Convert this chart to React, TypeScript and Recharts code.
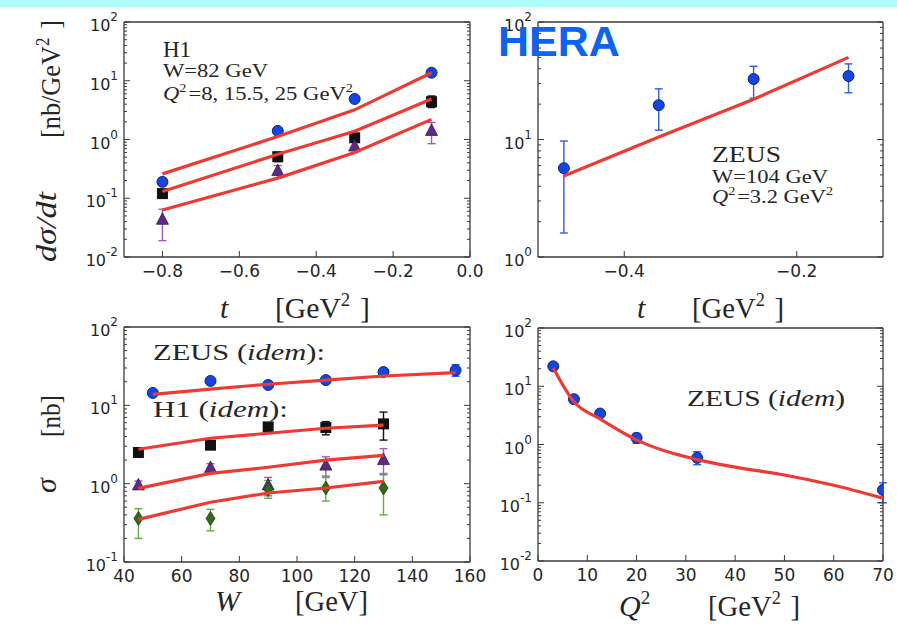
import React from "react";
import { ComposedChart, XAxis, YAxis, Scatter, Line, ErrorBar } from "recharts";

const INK = "#262626";
const FRAME = "#3a3a3a";
const RED = "#ee3a32";
const SERIF = '"Liberation Serif", "Times New Roman", serif';
const SANS = '"DejaVu Sans", sans-serif';

// dσ/dt vs t, H1 at W = 82 GeV (Q² = 8, 15.5, 25 GeV²)
const tH1 = [-0.8, -0.5, -0.3, -0.1];
const h1Circ = [0.19, 1.4, 4.9, 13.7];
const h1CircErr = [[0.17, 0.22], [1.25, 1.55], [4.4, 5.4], [12.3, 15.2]];
const h1Sq = [0.12, 0.51, 1.07, 4.4];
const h1SqErr = [[0.1, 0.14], [0.42, 0.6], [0.9, 1.25], [3.5, 5.5]];
const h1Tri = [0.043, 0.29, 0.76, 1.4];
const h1TriErr = [[0.019, 0.065], [0.22, 0.36], [0.6, 0.95], [0.85, 1.95]];
const h1Fit8 = [0.26, 1.12, 3.2, 13.7];
const h1Fit15 = [0.13, 0.56, 1.38, 4.9];
const h1Fit25 = [0.063, 0.22, 0.6, 2.2];

// dσ/dt vs t, ZEUS at W = 104 GeV, Q² = 3.2 GeV²
const tZeus = [-0.47, -0.36, -0.25, -0.14];
const zeusT = [5.7, 19.6, 32.7, 34.7];
const zeusTErr = [[1.6, 9.7], [12, 27], [22.5, 42], [25, 44]];
const zeusTFit = [4.9, 10.5, 22, 50];

// σ vs W
const wZeus = [50, 70, 90, 110, 130, 155];
const zeusW = [14.4, 20.5, 18.2, 21, 26.6, 28];
const zeusWErr = [[13.2, 15.6], [19, 22], [16.8, 19.6], [19.5, 22.5], [25, 28.2], [23.5, 33]];
const zeusWFit = [13.8, 16.1, 18.6, 21, 23.7, 26.1];
const wH1 = [45, 70, 90, 110, 130];
const h1WSq = [2.5, 3.1, 5.3, 5.2, 5.8];
const h1WSqErr = [[2.3, 2.7], [2.8, 3.4], [4.9, 5.7], [4.2, 6.2], [3.6, 8.2]];
const h1WSqFit = [2.75, 3.8, 4.4, 5.1, 5.6];
const h1WTri = [0.95, 1.58, 0.95, 1.7, 2.0];
const h1WTriErr = [[0.85, 1.08], [1.35, 1.8], [0.7, 1.2], [1.25, 2.2], [1.3, 2.8]];
const h1WTriFit = [0.87, 1.35, 1.62, 2.0, 2.3];
const h1WDia = [0.36, 0.36, 0.85, 0.88, 0.88];
const h1WDiaErr = [[0.2, 0.48], [0.25, 0.47], [0.65, 1.1], [0.6, 1.2], [0.4, 1.35]];
const h1WDiaFit = [0.35, 0.58, 0.76, 0.88, 1.07];

// σ vs Q², ZEUS
const q2Zeus = [3.1, 7.3, 12.6, 20, 32.3, 70];
const zeusQ = [22, 6.0, 3.4, 1.3, 0.59, 0.166];
const zeusQErr = [[20, 24], [5.4, 6.6], [3.0, 3.8], [1.05, 1.55], [0.45, 0.75], [0.1, 0.22]];
const q2Fit = [3.1, 7.3, 12.6, 20, 32.3, 40, 50, 60, 70];
const zeusQFit = [20.5, 5.4, 2.75, 1.2, 0.55, 0.41, 0.3, 0.2, 0.12];

// axis ticks
const tH1Ticks = [-0.8, -0.6, -0.4, -0.2, 0];
const tZeusTicks = [-0.4, -0.2];
const wTicks = [40, 60, 80, 100, 120, 140, 160];
const q2Ticks = [0, 10, 20, 30, 40, 50, 60, 70];
const decadesA = [0.01, 0.1, 1, 10, 100];
const decadesB = [1, 10, 100];
const decadesC = [0.1, 1, 10, 100];

const withMinor = (decades: number[]) => {
  const out: number[] = [];
  decades.forEach((d, i) => {
    if (i === decades.length - 1) out.push(d);
    else for (let m = 1; m <= 9; m++) out.push(+(m * d).toPrecision(3));
  });
  return out;
};

type Mark = "circle" | "square" | "triangle" | "diamond";
type Pt = { x: number; y: number; err?: number[] };

const MARKS: Record<Mark, { fill: string; edge: string; bar: string }> = {
  circle: { fill: "#1244e6", edge: "#0b2680", bar: "#2f5cf0" },
  square: { fill: "#111111", edge: "#000000", bar: "#111111" },
  triangle: { fill: "#5d2a86", edge: "#3a1756", bar: "#9a5cbf" },
  diamond: { fill: "#2f6a14", edge: "#1c430a", bar: "#5fae3e" },
};

const points = (xs: number[], ys: number[], errs: number[][]): Pt[] =>
  xs.map((x, i) => ({ x, y: ys[i], err: [ys[i] - errs[i][0], errs[i][1] - ys[i]] }));
const curve = (xs: number[], ys: number[]): Pt[] => xs.map((x, i) => ({ x, y: ys[i] }));

const markerShape = (kind: Mark) => (p: any) => {
  const { cx, cy } = p;
  const s = MARKS[kind];
  if (kind === "circle") return <circle cx={cx} cy={cy} r={5.5} fill={s.fill} stroke={s.edge} strokeWidth={1} />;
  if (kind === "square") return <rect x={cx - 5.5} y={cy - 5.5} width={11} height={11} fill={s.fill} />;
  if (kind === "triangle")
    return (
      <polygon
        points={`${cx},${cy - 7} ${cx - 6},${cy + 4.5} ${cx + 6},${cy + 4.5}`}
        fill={s.fill}
        stroke={s.edge}
        strokeWidth={0.8}
      />
    );
  return (
    <polygon
      points={`${cx},${cy - 7} ${cx + 4.5},${cy} ${cx},${cy + 7} ${cx - 4.5},${cy}`}
      fill={s.fill}
      stroke={s.edge}
      strokeWidth={0.8}
    />
  );
};

const isDecade = (v: number) => {
  const l = Math.log10(v);
  return Math.abs(l - Math.round(l)) < 1e-6;
};

// log axis ticks drawn inside the frame, decade labels as 10^k
const logTick = (side: "left" | "right") => (p: any) => {
  const v = p.payload.value;
  const major = isDecade(v);
  const len = major ? 6 : 3;
  const dir = side === "left" ? 1 : -1;
  return (
    <g>
      <line x1={p.x} y1={p.y} x2={p.x + dir * len} y2={p.y} stroke={FRAME} strokeWidth={1} />
      {side === "left" && major && (
        <text x={p.x - 6} y={p.y + 9} textAnchor="end" fontFamily={SANS} fontSize={16} fill={INK}>
          10
          <tspan dy={-10} fontSize={12}>
            {Math.round(Math.log10(v))}
          </tspan>
        </text>
      )}
    </g>
  );
};

const linTick = (side: "bottom" | "top", fmt?: (v: number) => string) => (p: any) => {
  const v = p.payload.value;
  const dir = side === "bottom" ? -1 : 1;
  return (
    <g>
      <line x1={p.x} y1={p.y} x2={p.x} y2={p.y + dir * 6} stroke={FRAME} strokeWidth={1} />
      {side === "bottom" && fmt && (
        <text x={p.x} y={p.y + 20} textAnchor="middle" fontFamily={SANS} fontSize={17} fill={INK}>
          {fmt(v)}
        </text>
      )}
    </g>
  );
};

const fmtT = (v: number) => v.toFixed(1).replace("-", "\u2212");
const fmtInt = (v: number) => String(v);

type Series = { kind: Mark; data: Pt[] };

type PanelProps = {
  left: number;
  top: number;
  width: number;
  height: number;
  // plot frame position inside the chart box
  frame: { top: number; right: number; bottom: number; left: number };
  xDomain: number[];
  xTicks: number[];
  xFmt: (v: number) => string;
  yDomain: number[];
  yTicks: number[];
  series: Series[];
  fits: Pt[][];
  smooth?: boolean;
};

function Panel(props: PanelProps) {
  const { left, top, width, height, frame, xDomain, xTicks, xFmt, yDomain, yTicks, series, fits, smooth } = props;
  const edge = { stroke: FRAME, strokeWidth: 1.3 };
  // every axis takes 1px, so the margins leave that pixel out
  const margin = { top: frame.top - 1, right: frame.right - 1, bottom: frame.bottom - 1, left: frame.left - 1 };
  const common = {
    type: "number" as const,
    allowDataOverflow: true,
    interval: 0 as const,
    tickSize: 0,
    tickMargin: 0,
    tickLine: false,
    axisLine: edge,
  };
  return (
    <div style={{ position: "absolute", left, top }}>
      <ComposedChart width={width} height={height} margin={margin} style={{ overflow: "visible" }}>
        <XAxis {...common} xAxisId="b" dataKey="x" domain={xDomain} ticks={xTicks} height={1} tick={linTick("bottom", xFmt)} />
        <XAxis {...common} xAxisId="t" orientation="top" domain={xDomain} ticks={xTicks} height={1} tick={linTick("top")} />
        <YAxis {...common} yAxisId="l" dataKey="y" scale="log" domain={yDomain} ticks={yTicks} width={1} tick={logTick("left")} />
        <YAxis {...common} yAxisId="r" orientation="right" scale="log" domain={yDomain} ticks={yTicks} width={1} tick={logTick("right")} />
        {series.map((s, i) => (
          <Scatter
            key={`s${i}`}
            xAxisId="b"
            yAxisId="l"
            data={s.data}
            dataKey="y"
            shape={markerShape(s.kind)}
            isAnimationActive={false}
          >
            <ErrorBar dataKey="err" direction="y" width={4} stroke={MARKS[s.kind].bar} strokeWidth={1.4} />
          </Scatter>
        ))}
        {fits.map((f, i) => (
          <Line
            key={`f${i}`}
            xAxisId="b"
            yAxisId="l"
            data={f}
            dataKey="y"
            type={smooth ? "monotone" : "linear"}
            stroke={RED}
            strokeWidth={3.2}
            dot={false}
            activeDot={false}
            zIndex={700}
            isAnimationActive={false}
          />
        ))}
      </ComposedChart>
    </div>
  );
}

const sup = (s: string, size = 12, shift = 9) => [
  <tspan key="a" dy={-shift} fontSize={size}>
    {s}
  </tspan>,
  <tspan key="b" dy={shift}>{"\u200a"}</tspan>,
];

function Annotations() {
  const t = { fontFamily: SERIF, fill: INK } as const;
  return (
    <svg width={897} height={629} style={{ position: "absolute", left: 0, top: 0, pointerEvents: "none" }}>
      <text x={498} y={56} fontFamily='"Liberation Sans", Arial, sans-serif' fontWeight="bold" fontSize={43} fill="#0a64f8">
        HERA
      </text>

      <text {...t} x={163} y={57} fontSize={23}>H1</text>
      <text {...t} x={163} y={77} fontSize={19} textLength={105} lengthAdjust="spacingAndGlyphs">W=82 GeV</text>
      <text {...t} x={163} y={100} fontSize={19} textLength={190} lengthAdjust="spacingAndGlyphs">
        <tspan fontStyle="italic">Q</tspan>
        {sup("2", 12, 8)}
        =8, 15.5, 25 GeV
        <tspan dy={-8} fontSize={12}>2</tspan>
      </text>

      <text {...t} x={712} y={162} fontSize={23} textLength={69} lengthAdjust="spacingAndGlyphs">ZEUS</text>
      <text {...t} x={712} y={183} fontSize={19} textLength={116} lengthAdjust="spacingAndGlyphs">W=104 GeV</text>
      <text {...t} x={712} y={203} fontSize={19} textLength={121} lengthAdjust="spacingAndGlyphs">
        <tspan fontStyle="italic">Q</tspan>
        {sup("2", 12, 8)}
        =3.2 GeV
        <tspan dy={-8} fontSize={12}>2</tspan>
      </text>

      <text {...t} x={153} y={360} fontSize={24} textLength={172} lengthAdjust="spacingAndGlyphs">
        ZEUS (<tspan fontStyle="italic">idem</tspan>):
      </text>
      <text {...t} x={153} y={417} fontSize={24} textLength={135} lengthAdjust="spacingAndGlyphs">
        H1 (<tspan fontStyle="italic">idem</tspan>):
      </text>
      <text {...t} x={687} y={406} fontSize={24} textLength={158} lengthAdjust="spacingAndGlyphs">
        ZEUS (<tspan fontStyle="italic">idem</tspan>)
      </text>

      {/* axis titles */}
      <text {...t} x={220} y={318} fontSize={30} fontStyle="italic">t</text>
      <text {...t} x={275} y={318} fontSize={30} textLength={95} lengthAdjust="spacingAndGlyphs">
        [GeV{sup("2", 19, 12)} ]
      </text>
      <text {...t} x={637} y={318} fontSize={30} fontStyle="italic">t</text>
      <text {...t} x={692} y={318} fontSize={30} textLength={92} lengthAdjust="spacingAndGlyphs">
        [GeV{sup("2", 19, 12)} ]
      </text>
      <text {...t} x={215} y={611} fontSize={30} fontStyle="italic">W</text>
      <text {...t} x={295} y={611} fontSize={30} textLength={73} lengthAdjust="spacingAndGlyphs">[GeV]</text>
      <text {...t} x={619} y={616} fontSize={30} fontStyle="italic">
        Q<tspan dy={-12} fontSize={19} fontStyle="normal">2</tspan>
      </text>
      <text {...t} x={708} y={616} fontSize={30} textLength={92} lengthAdjust="spacingAndGlyphs">
        [GeV{sup("2", 19, 12)} ]
      </text>

      <text {...t} transform="translate(56 262) rotate(-90)" fontSize={30} fontStyle="italic" textLength={70} lengthAdjust="spacingAndGlyphs">
        dσ/dt
      </text>
      <text {...t} transform="translate(60 138) rotate(-90)" fontSize={28} textLength={118} lengthAdjust="spacingAndGlyphs">
        [nb/GeV{sup("2", 18, 11)} ]
      </text>
      <text {...t} transform="translate(56 493) rotate(-90)" fontSize={30} fontStyle="italic">σ</text>
      <text {...t} transform="translate(60 437) rotate(-90)" fontSize={28} textLength={42} lengthAdjust="spacingAndGlyphs">
        [nb]
      </text>
    </svg>
  );
}

export default function App() {
  return (
    <div
      style={{
        position: "absolute",
        left: 0,
        top: 0,
        width: 897,
        height: 629,
        background: "#ffffff",
        overflow: "hidden",
      }}
    >
      <div style={{ position: "absolute", left: 0, top: 0, width: 897, height: 7, background: "#aefcfc" }} />
      <Panel
        left={0}
        top={0}
        width={490}
        height={320}
        frame={{ top: 22, right: 20, bottom: 63, left: 124 }}
        xDomain={[-0.9, 0]}
        xTicks={tH1Ticks}
        xFmt={fmtT}
        yDomain={[0.01, 100]}
        yTicks={withMinor(decadesA)}
        series={[
          { kind: "circle", data: points(tH1, h1Circ, h1CircErr) },
          { kind: "square", data: points(tH1, h1Sq, h1SqErr) },
          { kind: "triangle", data: points(tH1, h1Tri, h1TriErr) },
        ]}
        fits={[curve(tH1, h1Fit8), curve(tH1, h1Fit15), curve(tH1, h1Fit25)]}
      />
      <Panel
        left={460}
        top={0}
        width={437}
        height={320}
        frame={{ top: 22, right: 14, bottom: 63, left: 78 }}
        xDomain={[-0.5, -0.1]}
        xTicks={tZeusTicks}
        xFmt={fmtT}
        yDomain={[1, 100]}
        yTicks={withMinor(decadesB)}
        series={[{ kind: "circle", data: points(tZeus, zeusT, zeusTErr) }]}
        fits={[curve(tZeus, zeusTFit)]}
      />
      <Panel
        left={0}
        top={300}
        width={490}
        height={329}
        frame={{ top: 27, right: 20, bottom: 67, left: 124 }}
        xDomain={[40, 160]}
        xTicks={wTicks}
        xFmt={fmtInt}
        yDomain={[0.1, 100]}
        yTicks={withMinor(decadesC)}
        series={[
          { kind: "circle", data: points(wZeus, zeusW, zeusWErr) },
          { kind: "square", data: points(wH1, h1WSq, h1WSqErr) },
          { kind: "triangle", data: points(wH1, h1WTri, h1WTriErr) },
          { kind: "diamond", data: points(wH1, h1WDia, h1WDiaErr) },
        ]}
        fits={[curve(wZeus, zeusWFit), curve(wH1, h1WSqFit), curve(wH1, h1WTriFit), curve(wH1, h1WDiaFit)]}
      />
      <Panel
        left={460}
        top={300}
        width={437}
        height={329}
        frame={{ top: 28, right: 14, bottom: 68, left: 78 }}
        xDomain={[0, 70]}
        xTicks={q2Ticks}
        xFmt={fmtInt}
        yDomain={[0.01, 100]}
        yTicks={withMinor(decadesA)}
        series={[{ kind: "circle", data: points(q2Zeus, zeusQ, zeusQErr) }]}
        fits={[curve(q2Fit, zeusQFit)]}
        smooth
      />
      <Annotations />
    </div>
  );
}
